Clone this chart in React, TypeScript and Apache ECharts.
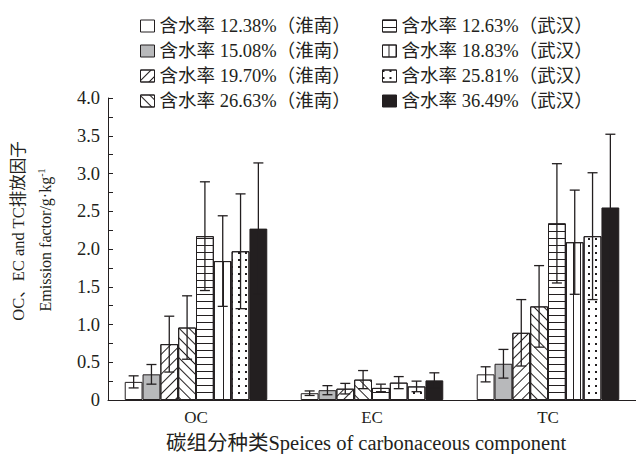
import React, { useEffect, useRef } from "react";
import * as echarts from "echarts";

// Carbon component categories on the x axis
const categories = ["OC", "EC", "TC"];

// Sample groups (moisture content, origin); bar order within each category
const seriesNames = [
  "含水率 12.38%（淮南）",
  "含水率 15.08%（淮南）",
  "含水率 19.70%（淮南）",
  "含水率 26.63%（淮南）",
  "含水率 12.63%（武汉）",
  "含水率 18.83%（武汉）",
  "含水率 25.81%（武汉）",
  "含水率 36.49%（武汉）",
];

// Emission factors (g/kg), mean and standard deviation per sample group
const ocMean = [0.24, 0.34, 0.74, 0.96, 2.17, 1.84, 1.97, 2.27];
const ocErr = [0.08, 0.13, 0.37, 0.42, 0.72, 0.6, 0.76, 0.87];
const ecMean = [0.09, 0.13, 0.15, 0.27, 0.16, 0.23, 0.18, 0.26];
const ecErr = [0.03, 0.06, 0.07, 0.12, 0.05, 0.08, 0.07, 0.1];
const tcMean = [0.34, 0.48, 0.89, 1.24, 2.34, 2.09, 2.17, 2.55];
const tcErr = [0.1, 0.19, 0.44, 0.54, 0.79, 0.69, 0.84, 0.97];

const INK = "#231f20";
const FONT = '"Liberation Serif", "Times New Roman", "Noto Sans CJK SC", serif';
const CATEGORY_GAP = 0.19;

const stripe = (rotation: number) => ({
  symbol: "rect",
  symbolSize: 1,
  color: INK,
  dashArrayX: [1, 0],
  dashArrayY: [1, 6],
  rotation,
});

// Fill colour and decal for each sample group
const barFills: { color: string; decal?: any }[] = [
  { color: "#ffffff" },
  { color: "#b8b9bb" },
  { color: "#ffffff", decal: stripe(-Math.PI / 4) },
  { color: "#ffffff", decal: stripe(Math.PI / 4) },
  { color: "#ffffff", decal: stripe(0) },
  { color: "#ffffff", decal: stripe(Math.PI / 2) },
  {
    color: "#ffffff",
    decal: {
      symbol: "rect",
      symbolSize: 1,
      color: INK,
      dashArrayX: [2, 5],
      dashArrayY: [2, 5],
      rotation: 0,
    },
  },
  { color: INK },
];

export default function App() {
  const ref = useRef<HTMLDivElement>(null);

  useEffect(() => {
    if (!ref.current) return;
    const chart = echarts.init(ref.current, null, { renderer: "svg" });

    const means = [ocMean, ecMean, tcMean];
    const errs = [ocErr, ecErr, tcErr];

    const barSeries = seriesNames.map((name, s) => ({
      name,
      type: "bar",
      barGap: "0%",
      barCategoryGap: `${CATEGORY_GAP * 100}%`,
      data: categories.map((_, c) => means[c][s]),
      itemStyle: {
        color: barFills[s].color,
        borderColor: INK,
        borderWidth: 1,
        decal: barFills[s].decal,
      },
      z: 2,
    }));

    const errorData: number[][] = [];
    categories.forEach((_, c) => {
      seriesNames.forEach((__, s) => {
        errorData.push([c, s, means[c][s], errs[c][s]]);
      });
    });

    const errorSeries = {
      type: "custom",
      name: "error",
      z: 5,
      silent: true,
      encode: { x: 0, y: 2 },
      data: errorData,
      renderItem: (params: any, api: any) => {
        const c = api.value(0);
        const s = api.value(1);
        const m = api.value(2);
        const e = api.value(3);
        const band = api.size([1, 0])[0];
        const barW = (band * (1 - CATEGORY_GAP)) / seriesNames.length;
        const center = api.coord([c, m]);
        const x = center[0] + (s - (seriesNames.length - 1) / 2) * barW;
        const yTop = api.coord([c, m + e])[1];
        const yBot = api.coord([c, Math.max(0, m - e)])[1];
        const cap = 5;
        const style = { stroke: INK, lineWidth: 1.3 };
        return {
          type: "group",
          children: [
            { type: "line", shape: { x1: x, y1: yTop, x2: x, y2: yBot }, style },
            { type: "line", shape: { x1: x - cap, y1: yTop, x2: x + cap, y2: yTop }, style },
            { type: "line", shape: { x1: x - cap, y1: yBot, x2: x + cap, y2: yBot }, style },
          ],
        };
      },
    };

    const legendBase = {
      orient: "vertical",
      top: 11,
      icon: "rect",
      itemWidth: 14,
      itemHeight: 12,
      itemGap: 5,
      selectedMode: false,
      itemStyle: { borderColor: INK, borderWidth: 1 },
      textStyle: { fontFamily: FONT, fontSize: 18.5, color: INK, lineHeight: 20 },
    };

    chart.setOption({
      animation: false,
      backgroundColor: "#ffffff",
      textStyle: { fontFamily: FONT, color: INK },
      legend: [
        { ...legendBase, left: 135, data: seriesNames.slice(0, 4) },
        { ...legendBase, left: 377, data: seriesNames.slice(4) },
      ],
      grid: { left: 108, right: -18, top: 98, bottom: 54, containLabel: false },
      xAxis: {
        type: "category",
        data: categories,
        axisLine: { lineStyle: { color: INK, width: 1 } },
        axisTick: { show: false },
        axisLabel: { color: INK, fontFamily: FONT, fontSize: 17, margin: 9 },
      },
      yAxis: {
        type: "value",
        min: 0,
        max: 4,
        interval: 0.5,
        splitLine: { show: false },
        axisLine: { show: true, lineStyle: { color: INK, width: 1 } },
        axisTick: { show: true, inside: true, length: 5, lineStyle: { color: INK } },
        minorTick: { show: true, splitNumber: 2, length: 5, lineStyle: { color: INK } },
        axisLabel: {
          color: INK,
          fontFamily: FONT,
          fontSize: 18.5,
          margin: 8,
          formatter: (v: number) => (v === 0 ? "0" : v.toFixed(1)),
        },
      },
      graphic: [
        {
          type: "text",
          x: 18,
          y: 231,
          rotation: Math.PI / 2,
          style: {
            text: "OC、EC and TC排放因子",
            font: `16.5px ${FONT}`,
            fill: INK,
            align: "center",
            verticalAlign: "middle",
          },
        },
        {
          type: "text",
          x: 45,
          y: 240,
          rotation: Math.PI / 2,
          style: {
            text: "{a|Emission factor/g·kg}{s|-1}",
            fill: INK,
            align: "center",
            verticalAlign: "middle",
            rich: {
              a: { font: `16px ${FONT}`, fill: INK, lineHeight: 18 },
              s: { font: `10px ${FONT}`, fill: INK, verticalAlign: "top", lineHeight: 18 },
            },
          },
        },
        {
          type: "text",
          x: 366,
          y: 443,
          style: {
            text: "碳组分种类Speices of carbonaceous component",
            font: `20.5px ${FONT}`,
            fill: INK,
            align: "center",
            verticalAlign: "middle",
          },
        },
      ],
      series: [...barSeries, errorSeries],
    });

    return () => chart.dispose();
  }, []);

  return (
    <div
      ref={ref}
      style={{ position: "fixed", left: 0, top: 0, width: 636, height: 454, background: "#fff" }}
    />
  );
}
